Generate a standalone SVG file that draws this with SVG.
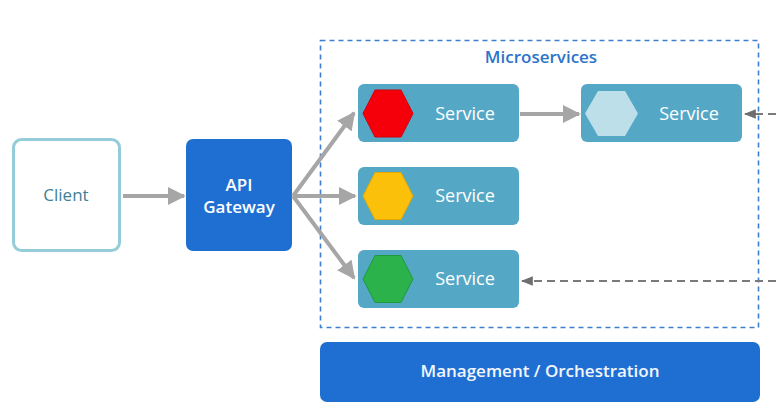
<svg xmlns="http://www.w3.org/2000/svg" width="776" height="409" viewBox="0 0 776 409">
<defs>
<style>
text{font-family:"Open Sans","Noto Sans","DejaVu Sans",sans-serif}
.svc{fill:#54a8c6}
.svct{fill:#ffffff;font-size:18px;text-anchor:middle}
.arr{stroke:#a6a6a6;stroke-width:4;fill:none}
.darr{stroke:#7a7a7a;stroke-width:2;fill:none;stroke-dasharray:8 5}
</style>
<marker id="ah" viewBox="0 0 10 10" refX="9" refY="5" markerWidth="4.5" markerHeight="4.5" orient="auto" markerUnits="strokeWidth">
<path d="M0,0 L10,5 L0,10 z" fill="#a6a6a6"/>
</marker>
<marker id="dh" viewBox="0 0 10 10" refX="9" refY="5" markerWidth="6" markerHeight="6" orient="auto" markerUnits="strokeWidth">
<path d="M0,1 L10,5 L0,9 z" fill="#6e6e6e"/>
</marker>
</defs>
<rect width="776" height="409" fill="#ffffff"/>
<g id="microservices">
<rect x="320.5" y="40.5" width="438" height="287" fill="none" stroke="#3c7fd0" stroke-width="1.6" stroke-dasharray="5 4"/>
<text x="541" y="63" font-size="17" font-weight="600" fill="#2e74c9" text-anchor="middle">Microservices</text>
</g>
<g id="client">
<rect x="13.5" y="139.5" width="106" height="111" rx="8" fill="#ffffff" stroke="#94cdd9" stroke-width="3"/>
<text x="66" y="201" font-size="17" fill="#3f8095" text-anchor="middle">Client</text>
</g>
<g id="gateway">
<rect x="186" y="139" width="106" height="112" rx="7" fill="#1f6fd3"/>
<text x="239" y="191" font-size="17" font-weight="600" fill="#ffffff" text-anchor="middle">API</text>
<text x="239" y="213" font-size="17" font-weight="600" fill="#ffffff" text-anchor="middle">Gateway</text>
</g>
<g id="service1">
<rect class="svc" x="358" y="84" width="161" height="58" rx="6"/>
<polygon points="363,113.5 375,90 401,90 413,113.5 401,137 375,137" fill="#f5000a" stroke="#d40008" stroke-width="1"/>
<text class="svct" x="465" y="120">Service</text>
</g>
<g id="service2">
<rect class="svc" x="358" y="167" width="161" height="58" rx="6"/>
<polygon points="363,196 375,172.5 401,172.5 413,196 401,219.5 375,219.5" fill="#fbc10a" stroke="#e5a800" stroke-width="1"/>
<text class="svct" x="465" y="202">Service</text>
</g>
<g id="service3">
<rect class="svc" x="358" y="250" width="161" height="58" rx="6"/>
<polygon points="363,279 375,255.5 401,255.5 413,279 401,302.5 375,302.5" fill="#2bb24a" stroke="#1f9a3a" stroke-width="1"/>
<text class="svct" x="465" y="285">Service</text>
</g>
<g id="service4">
<rect class="svc" x="581" y="84" width="161" height="58" rx="6"/>
<polygon points="585,113.5 598,91 625,91 638,113.5 625,136 598,136" fill="#bddfe9"/>
<text class="svct" x="689" y="120">Service</text>
</g>
<g id="management">
<rect x="320" y="342" width="440" height="60" rx="7" fill="#1f6fd3"/>
<text x="540" y="377" font-size="17" font-weight="600" fill="#f2f6fc" text-anchor="middle">Management / Orchestration</text>
</g>
<g id="connectors">
<line class="arr" x1="123" y1="196" x2="184" y2="196" marker-end="url(#ah)"/>
<line class="arr" x1="293" y1="196" x2="354" y2="113" marker-end="url(#ah)"/>
<line class="arr" x1="293" y1="196" x2="355" y2="196" marker-end="url(#ah)"/>
<line class="arr" x1="293" y1="196" x2="354" y2="278" marker-end="url(#ah)"/>
<line class="arr" x1="520" y1="114" x2="579" y2="114" marker-end="url(#ah)"/>
<line class="darr" x1="776" y1="114" x2="745" y2="114" marker-end="url(#dh)"/>
<line class="darr" x1="776" y1="281" x2="522" y2="281" marker-end="url(#dh)"/>
</g>
</svg>
